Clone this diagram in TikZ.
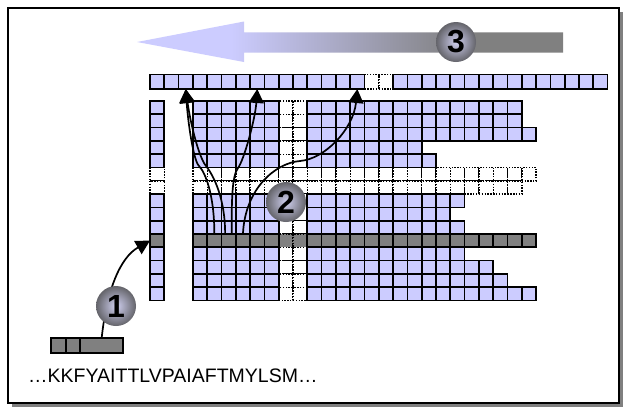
\documentclass[tikz,border=0pt]{standalone}
\usepackage{fontspec}
\setmainfont{Liberation Sans}
\usetikzlibrary{arrows.meta,calc}
\definecolor{lav}{RGB}{204,204,255}
\definecolor{gry}{RGB}{128,128,128}
\definecolor{ballin}{RGB}{208,208,240}
\definecolor{ballout}{RGB}{100,100,106}
\pgfdeclarehorizontalshading{arrsh}{100bp}{color(0bp)=(lav); color(36bp)=(lav); color(63bp)=(gry); color(100bp)=(gry)}
\begin{document}
\begin{tikzpicture}[x=1pt,y=-1pt,
  cell/.style={draw=black, line width=1.7pt, fill=lav, minimum width=14.3pt, minimum height=13.3pt, inner sep=0pt, outer sep=0pt},
  gcell/.style={cell, fill=gry},
  dcell/.style={cell, fill=white, line width=1.4pt, dash pattern=on 1.4pt off 1.4pt},
  ball/.style={circle, minimum size=40pt, inner sep=0pt, shading=radial, inner color=ballin, outer color=ballout, font=\fontsize{32}{32}\selectfont\bfseries},
  conn/.style={line width=1.7pt, -{Triangle[length=14pt,width=15pt]}},
]
\useasboundingbox (0,0) rectangle (628,408);
% frame with shadow
\fill[gry] (12,12) rectangle (623,407);
\draw[line width=1.4pt, fill=white] (8,8) rectangle (619,403);

% big arrow 3
\shade[shading=arrsh] (137,42) -- (244,21.5) -- (244,32.3) -- (563,32.3) -- (563,52.5) -- (244,52.5) -- (244,62) -- cycle;

% top row: dotted first, then solid
\foreach \c in {15,16}{
  \node[dcell, minimum height=14.5pt] (t-\c) at ({150+(\c+0.5)*14.3},81.75) {};
}
\foreach \c in {0,...,31}{
  \ifnum\c=15 \else\ifnum\c=16 \else
  \node[cell, minimum height=14.5pt] (t-\c) at ({150+(\c+0.5)*14.3},81.75) {};
  \fi\fi
}

% grid pass 1: dotted cells
\foreach \r/\e/\k in {0/26/0,1/26/0,2/27/0,3/19/0,4/20/0,5/27/1,6/26/1,7/22/0,8/21/0,9/22/0,10/27/2,11/22/0,12/24/0,13/25/0,14/27/0}{
  \pgfmathtruncatemacro\last{\e-1}
  \ifnum\k=1
    \node[dcell] (g-\r-0) at ({150+0.5*14.3},{101+(\r+0.5)*13.3}) {};
    \foreach \c in {3,...,\last}{
      \node[dcell] (g-\r-\c) at ({150+(\c+0.5)*14.3},{101+(\r+0.5)*13.3}) {};
    }
  \else
    \ifnum\k=2 \def\fc{gry}\else\def\fc{white}\fi
    \foreach \c in {9,10}{
      \node[dcell, fill=\fc] (g-\r-\c) at ({150+(\c+0.5)*14.3},{101+(\r+0.5)*13.3}) {};
    }
  \fi
}
% grid pass 2: solid cells
\foreach \r/\e/\k in {0/26/0,1/26/0,2/27/0,3/19/0,4/20/0,5/27/1,6/26/1,7/22/0,8/21/0,9/22/0,10/27/2,11/22/0,12/24/0,13/25/0,14/27/0}{
  \pgfmathtruncatemacro\last{\e-1}
  \ifnum\k=1 \else
    \ifnum\k=2 \tikzset{cur/.style={gcell}}\else\tikzset{cur/.style={cell}}\fi
    \node[cur] (g-\r-0) at ({150+0.5*14.3},{101+(\r+0.5)*13.3}) {};
    \foreach \c in {3,...,\last}{
      \ifnum\c=9 \else\ifnum\c=10 \else
      \node[cur] (g-\r-\c) at ({150+(\c+0.5)*14.3},{101+(\r+0.5)*13.3}) {};
      \fi\fi
    }
  \fi
}

% small bar
\node[gcell, minimum width=15.3pt, minimum height=14.4pt] (b1) at (58.35,345.5) {};
\node[gcell, minimum width=14pt, minimum height=14.4pt] (b2) at (73,345.5) {};
\node[gcell, minimum width=43.3pt, minimum height=14.4pt] (b3) at (101.65,345.5) {};

% sequence text
\node[anchor=base west, inner sep=0pt, font=\fontsize{19.5}{22}\selectfont] (seq) at (28,382) {…KKFYAITTLVPAIAFTMYLSM…};

% connector 1
\draw[conn] (b3.north) .. controls +(5,-48) and +(-30,17) .. (g-10-0.west);

% connectors 2
\draw[conn] (g-10-4.north) .. controls +(0,-40) and +(6,6) .. (199,166) .. controls +(-6,-6) and +(2,30) .. (t-2.south);
\draw[conn] ($(g-10-5.north)+(-3.5,0)$) .. controls +(0,-35) and +(8,10) .. (206,166) .. controls +(-8,-10) and +(4,30) .. (t-2.south);
\draw[conn] ($(g-10-5.north)+(3,0)$) .. controls +(0,-35) and +(-6,8) .. (238,168) .. controls +(6,-8) and +(-2,30) .. (t-7.south);
\draw[conn] (g-10-6.north) .. controls +(2,-45) and +(-25,2) .. (300,161) .. controls +(25,-2) and +(-4,40) .. (t-14.south);

% numbered balls
\node[ball] (n1) at (116,306) {1};
\node[ball] (n2) at (286,202) {2};
\node[ball] (n3) at (456,42) {3};
\end{tikzpicture}
\end{document}
